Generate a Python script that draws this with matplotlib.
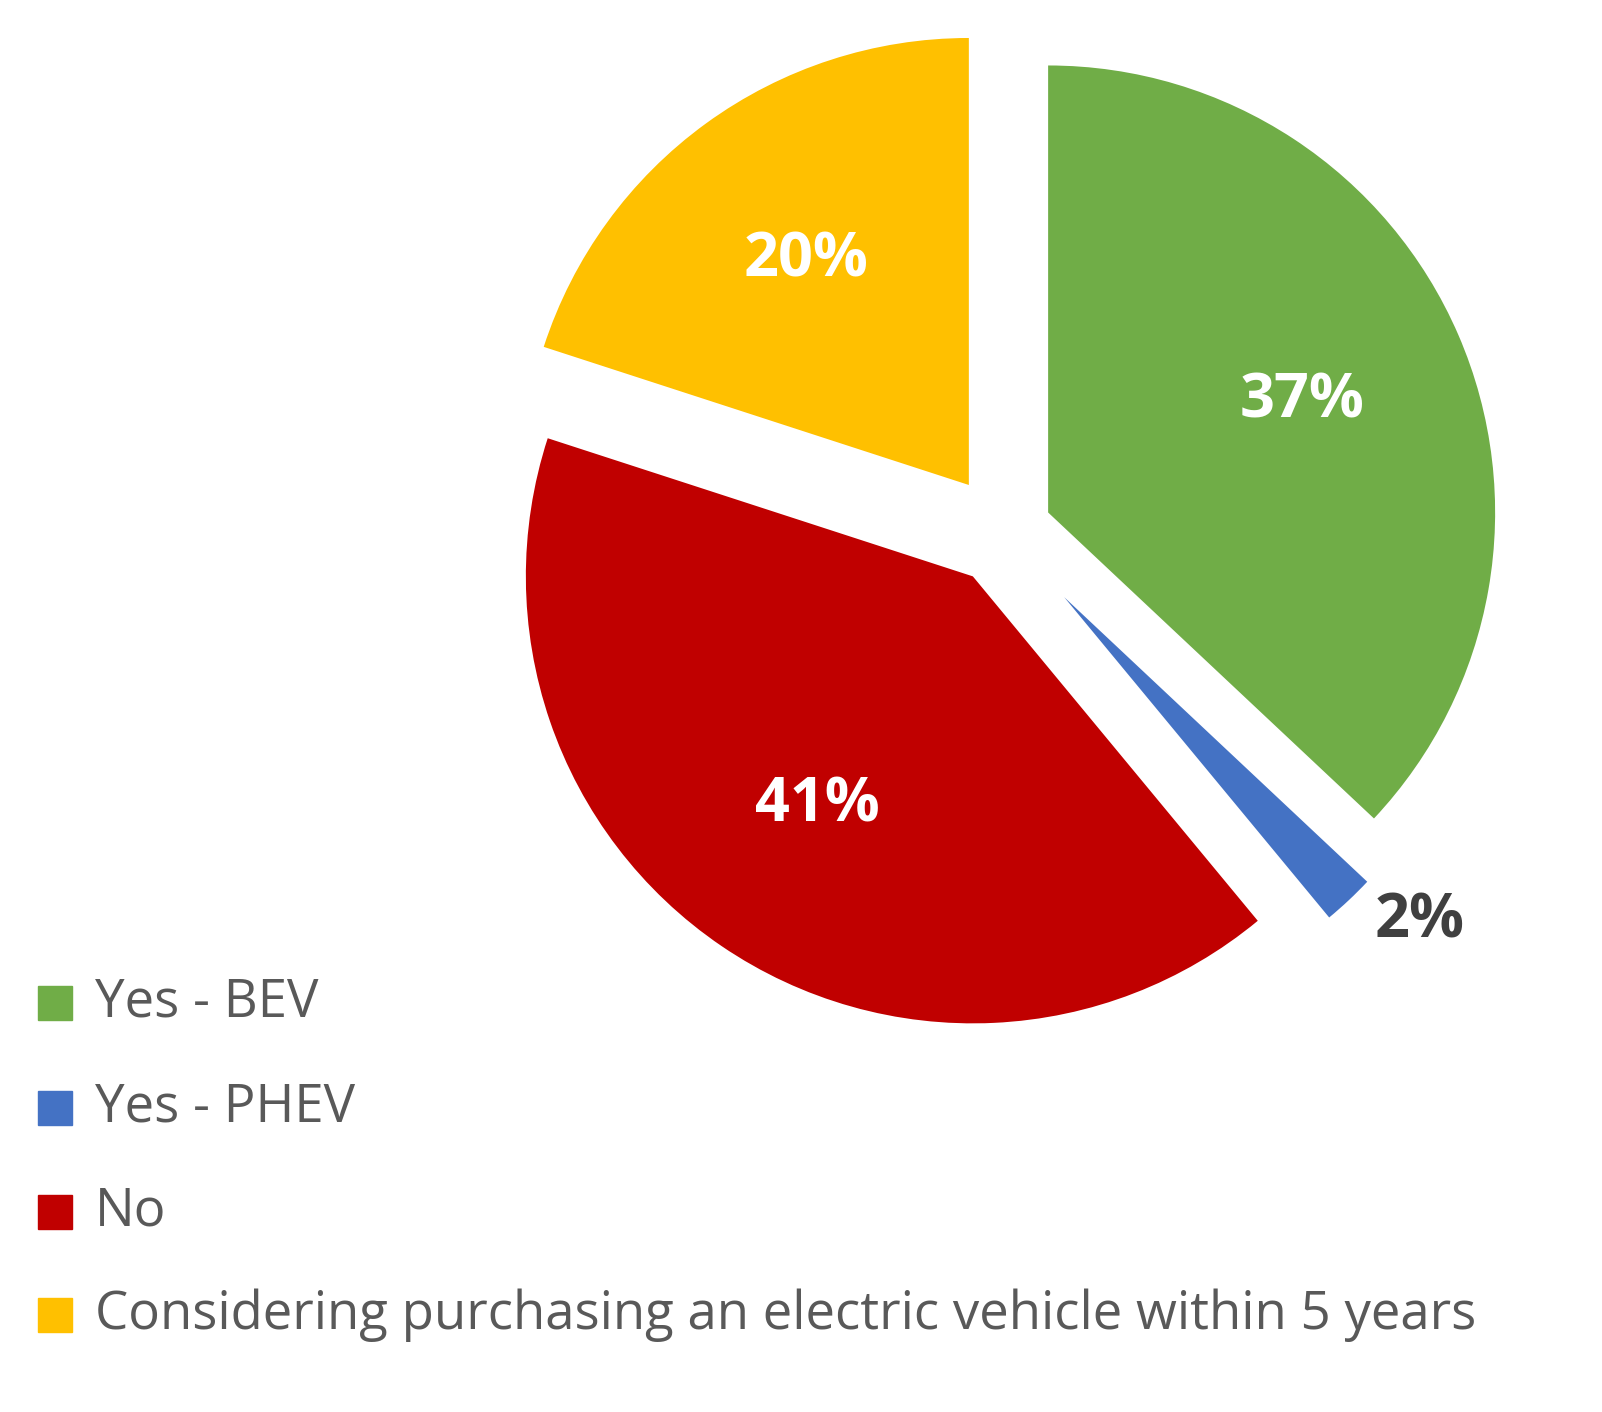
import matplotlib.pyplot as plt
from matplotlib.patches import Rectangle
import numpy as np

labels = ['Yes - BEV', 'Yes - PHEV', 'No', 'Considering purchasing an electric vehicle within 5 years']
values = [37, 2, 41, 20]
colors = ['#70ad47', '#4472c4', '#c00000', '#ffc000']
explode = [0.11, 0.2, 0.12, 0.13]

plt.rcParams['font.family'] = ['Open Sans', 'DejaVu Sans']

fig = plt.figure(figsize=(16.02, 14.12), dpi=100)
ax = fig.add_axes([0, 0, 1, 1])

cx, cy, r = 1003, 532, 447
# explode offsets in matplotlib are absolute, so scale by radius
wedges, texts, autotexts = ax.pie(values, colors=colors, explode=[e * r for e in explode],
                                  startangle=-90, counterclock=True, center=(cx, cy), radius=r,
                                  autopct='%d%%', pctdistance=0.62, frame=True)
wedges[1].set_radius(r * 0.93)
ax.set_xlim(0, 1602)
ax.set_ylim(1412, 0)
ax.set_aspect('equal')
ax.axis('off')

for t in autotexts:
    t.set_color('white')
    t.set_fontsize(44)
    t.set_fontweight('bold')
# small slice label outside
autotexts[1].set_position((1420, 922))
autotexts[1].set_color('#404040')

# legend
ys = [1003, 1108, 1212, 1315]
for lab, col, y in zip(labels, colors, ys):
    ax.add_patch(Rectangle((38, y - 17), 34, 34, color=col))
    ax.text(95, y, lab, fontsize=38, color='#595959', va='center', ha='left')

fig.savefig('out.png', dpi=100)
